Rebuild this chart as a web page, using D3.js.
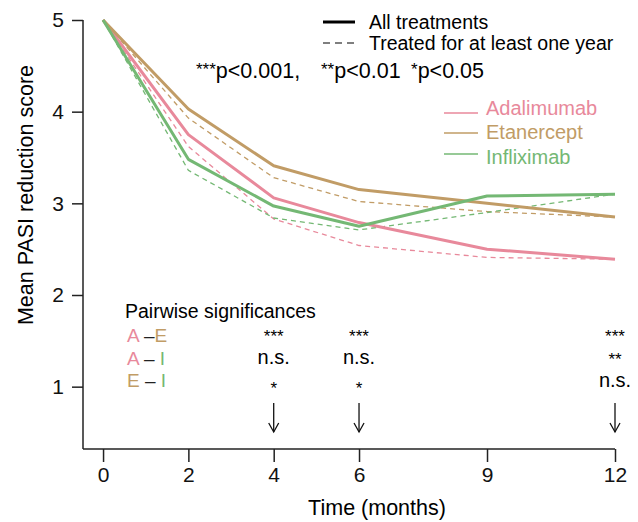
<!DOCTYPE html>
<html>
<head>
<meta charset="utf-8">
<script src="https://cdn.jsdelivr.net/npm/d3@7"></script>
<style>
body { margin: 0; background: #fff; }
svg { font-family: 'Liberation Sans', Arial, sans-serif; }
.axis path, .axis line { stroke: #222; stroke-width: 1.5; }
</style>
</head>
<body>
<div id="chart"></div>
<script>
'use strict';

// months on the x axis
let months = [0, 2, 4, 6, 9, 12];
let drugs = ['Adalimumab', 'Etanercept', 'Infliximab'];
let colors = ['#e8899b', '#c19c66', '#74b874'];

// mean PASI reduction, all treatments (solid)
let allAdalimumab = [5, 3.75, 3.06, 2.79, 2.50, 2.39];
let allEtanercept = [5, 4.03, 3.41, 3.15, 3.00, 2.85];
let allInfliximab = [5, 3.48, 2.97, 2.75, 3.08, 3.10];

// treated for at least one year (dashed)
let yearAdalimumab = [5, 3.62, 2.83, 2.54, 2.41, 2.39];
let yearEtanercept = [5, 3.93, 3.28, 3.02, 2.91, 2.85];
let yearInfliximab = [5, 3.36, 2.84, 2.71, 2.90, 3.10];

let xTicks = [0, 2, 4, 6, 9, 12];
let yTicks = [1, 2, 3, 4, 5];

// p-value key: stars + threshold
let pStars = ['***', '**', '*'];
let pLabels = ['p<0.001,', 'p<0.01', 'p<0.05'];

// pairwise significance marks at selected months
let pairs = [['A', 'E'], ['A', 'I'], ['E', 'I']];
let sigMonths = [4, 6, 12];
let sigMarks = [
	['***', 'n.s.', '*'],
	['***', 'n.s.', '*'],
	['***', '**', 'n.s.'],
];

let W = 638, H = 522;
let svg = d3.select('#chart').append('svg')
	.attr('width', W)
	.attr('height', H)
	;

let x = d3.scaleLinear().domain([-0.47, 12]).range([83, 615]);
let y = d3.scaleLinear().domain([0.32, 5]).range([449, 20]);

// axes
let xAxis = svg.append('g').classed('axis', true)
	.attr('transform', 'translate(0,449)')
	.call(d3.axisBottom(x).tickValues(xTicks).tickSize(13).tickPadding(5).tickSizeOuter(0))
	;
xAxis.select('.domain').attr('d', 'M83,0H615');

let yAxis = svg.append('g').classed('axis', true)
	.attr('transform', 'translate(83,0)')
	.call(d3.axisLeft(y).tickValues(yTicks).tickFormat(d3.format('d')).tickSize(11).tickPadding(8).tickSizeOuter(0))
	;
yAxis.select('.domain').attr('d', 'M0,20V449');
svg.selectAll('.axis text')
	.style('font-family', "'Liberation Sans', Arial, sans-serif")
	.style('font-size', '21px')
	.attr('fill', '#111');

svg.append('text')
	.attr('transform', 'translate(33,195) rotate(-90)')
	.attr('text-anchor', 'middle')
	.style('font-size', '21.5px')
	.text('Mean PASI reduction score');

svg.append('text')
	.attr('x', 377).attr('y', 515)
	.attr('text-anchor', 'middle')
	.style('font-size', '21.5px')
	.text('Time (months)');

// lines
let line = d3.line()
	.x((d, i) => x(months[i]))
	.y(d => y(d));

let yearSeries = [yearAdalimumab, yearEtanercept, yearInfliximab];
let allSeries = [allAdalimumab, allEtanercept, allInfliximab];

for (let i = 0; i < yearSeries.length; ++i) {
	svg.append('path')
		.attr('d', line(yearSeries[i]))
		.attr('fill', 'none')
		.attr('stroke', colors[i])
		.attr('stroke-width', 1.3)
		.attr('stroke-dasharray', '5,4');
}
for (let i = 0; i < allSeries.length; ++i) {
	svg.append('path')
		.attr('d', line(allSeries[i]))
		.attr('fill', 'none')
		.attr('stroke', colors[i])
		.attr('stroke-width', 3)
		.attr('stroke-linejoin', 'round');
}

// line style legend
svg.append('line').attr('x1', 323).attr('x2', 355).attr('y1', 22).attr('y2', 22)
	.attr('stroke', '#000').attr('stroke-width', 3);
svg.append('text').attr('x', 369).attr('y', 29).style('font-size', '19.5px').text('All treatments');
svg.append('line').attr('x1', 323).attr('x2', 355).attr('y1', 43).attr('y2', 43)
	.attr('stroke', '#000').attr('stroke-width', 1.2).attr('stroke-dasharray', '7,5');
svg.append('text').attr('x', 369).attr('y', 50).style('font-size', '19.5px').text('Treated for at least one year');

// p-value key
let pX = [196, 321, 411];
pStars.forEach(function(s, i) {
	let t = svg.append('text').attr('x', pX[i]).attr('y', 78).style('font-size', '21.5px');
	t.append('tspan').attr('dy', -3).style('font-size', '17px').text(s);
	t.append('tspan').attr('dy', 3).text(pLabels[i]);
});

// drug legend
let legLine = [113, 133, 154];
let legText = [115, 139, 164];
drugs.forEach(function(d, i) {
	svg.append('line').attr('x1', 444).attr('x2', 478).attr('y1', legLine[i]).attr('y2', legLine[i])
		.attr('stroke', colors[i]).attr('stroke-width', 1.5);
	svg.append('text').attr('x', 486).attr('y', legText[i])
		.style('font-size', '20px').attr('fill', colors[i]).text(d);
});

// pairwise significances
svg.append('text').attr('x', 125).attr('y', 318).style('font-size', '19.5px').text('Pairwise significances');
let letterColor = {A: colors[0], E: colors[1], I: colors[2]};
pairs.forEach(function(p, i) {
	let t = svg.append('text').attr('x', 127).attr('y', 342 + i * 22.5).style('font-size', '19px');
	t.append('tspan').attr('fill', letterColor[p[0]]).text(p[0]);
	t.append('tspan').attr('fill', '#222').text(p[1] == 'E' ? ' –' : ' – ');
	t.append('tspan').attr('fill', letterColor[p[1]]).text(p[1]);
});

sigMonths.forEach(function(m, j) {
	let cx = x(m);
	let marks = sigMarks[j];
	// baselines of the three rows
	let ys = j == 2 ? [342, 365, 387] : [342, 364, 394];
	marks.forEach(function(s, k) {
		let isStar = s != 'n.s.';
		svg.append('text')
			.attr('x', cx).attr('y', ys[k])
			.attr('text-anchor', 'middle')
			.style('font-size', isStar ? '17px' : '20px')
			.text(s);
	});
	svg.append('line').attr('x1', cx).attr('x2', cx).attr('y1', 403).attr('y2', 432)
		.attr('stroke', '#111').attr('stroke-width', 1.3);
	svg.append('path').attr('d', `M${cx - 5},${423}L${cx},${432}L${cx + 5},${423}`)
		.attr('fill', 'none').attr('stroke', '#111').attr('stroke-width', 1.3);
});
</script>
</body>
</html>
